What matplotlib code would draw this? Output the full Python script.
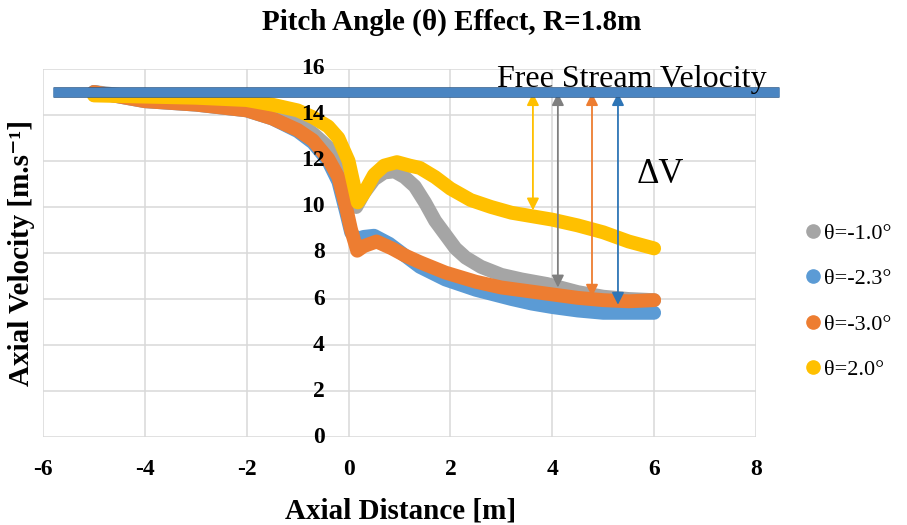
import matplotlib
matplotlib.use('Agg')
import matplotlib.pyplot as plt
import matplotlib.patheffects as pe
from matplotlib.lines import Line2D
from matplotlib.transforms import offset_copy

plt.rcParams['font.family'] = ['Liberation Serif', 'DejaVu Serif']

# axial velocity along the rotor axis for each pitch setting
labels = ['θ=-1.0°', 'θ=-2.3°', 'θ=-3.0°', 'θ=2.0°']
colors = ['#a5a5a5', '#5b9bd5', '#ed7d31', '#ffc000']

x_m10 = [-5.0, -4.0, -3.0, -2.0, -1.5, -1.0, -0.7, -0.4, -0.2, 0.0, 0.15, 0.3, 0.5, 0.7, 0.9,
         1.1, 1.3, 1.5, 1.7, 1.9, 2.1, 2.3, 2.6, 3.0, 3.4, 3.9, 4.5, 5.0, 5.5, 6.0]
v_m10 = [15.0, 14.75, 14.6, 14.4, 14.1, 13.7, 13.2, 12.6, 12.0, 11.0, 10.0, 10.6, 11.2, 11.5, 11.55,
         11.3, 10.9, 10.2, 9.4, 8.8, 8.2, 7.8, 7.4, 7.05, 6.85, 6.65, 6.3, 6.1, 6.0, 5.95]

x_m23 = [-5.0, -4.0, -3.0, -2.0, -1.5, -1.0, -0.7, -0.4, -0.2, -0.05, 0.05, 0.15, 0.3, 0.5, 0.8,
         1.1, 1.4, 1.9, 2.5, 3.2, 3.6, 4.0, 4.5, 5.0, 5.5, 6.0]
v_m23 = [15.0, 14.6, 14.45, 14.2, 13.85, 13.3, 12.8, 12.0, 11.1, 9.8, 8.9, 8.6, 8.7, 8.75, 8.4,
         7.9, 7.4, 6.85, 6.4, 6.0, 5.8, 5.65, 5.5, 5.4, 5.4, 5.4]

x_m30 = [-5.0, -4.5, -4.0, -3.0, -2.0, -1.5, -1.0, -0.7, -0.4, -0.2, -0.05, 0.05, 0.17, 0.3, 0.55,
         0.85, 1.1, 1.4, 1.9, 2.5, 3.0, 3.5, 4.0, 4.5, 5.0, 5.5, 6.0]
v_m30 = [15.0, 14.8, 14.6, 14.45, 14.2, 13.85, 13.35, 12.9, 12.1, 11.3, 10.0, 9.0, 8.1, 8.3, 8.5,
         8.2, 7.9, 7.6, 7.15, 6.75, 6.5, 6.35, 6.2, 6.05, 5.95, 5.9, 5.95]

x_p20 = [-5.0, -4.0, -3.0, -2.0, -1.5, -1.0, -0.7, -0.4, -0.2, 0.0, 0.1, 0.18, 0.3, 0.5, 0.7,
         0.95, 1.2, 1.4, 1.7, 2.0, 2.4, 2.8, 3.2, 3.6, 4.0, 4.5, 5.0, 5.5, 6.0]
v_p20 = [14.85, 14.8, 14.75, 14.65, 14.45, 14.2, 13.9, 13.5, 13.0, 12.0, 11.0, 10.2, 10.6, 11.4, 11.8,
         11.95, 11.8, 11.7, 11.3, 10.8, 10.3, 10.0, 9.75, 9.6, 9.45, 9.2, 8.9, 8.5, 8.2]

series_x = [x_m10, x_m23, x_m30, x_p20]
series_v = [v_m10, v_m23, v_m30, v_p20]

# free stream reference and velocity deficit arrows
free_stream = 15.0
free_stream_x = [-5.8, 8.45]
arrow_x = [3.62, 4.11, 4.78, 5.29]
arrow_low = [9.85, 6.5, 6.1, 5.75]
arrow_colors = ['#ffc000', '#7f7f7f', '#ed7d31', '#2e75b6']

x_ticks = list(range(-6, 9, 2))
y_ticks = list(range(0, 17, 2))

fig = plt.figure(figsize=(9.07, 5.25), dpi=100)
ax = fig.add_axes([0.0474, 0.1676, 0.7861, 0.701])
ax.set_xlim(-6, 8)
ax.set_ylim(0, 16)
ax.set_xticks(x_ticks, labels=[str(t) for t in x_ticks], fontweight='bold', fontsize=17)
ax.set_yticks(y_ticks, labels=[])
ax.grid(True, color='#d9d9d9', lw=1.1)
for s in ax.spines.values():
    s.set_visible(False)
ax.tick_params(length=0)
ax.tick_params(axis='x', pad=16)

for xs, vs, c, lab in zip(series_x, series_v, colors, labels):
    ax.plot(xs, vs, color=c, lw=10, solid_capstyle='round', solid_joinstyle='round', label=lab)

# y tick labels sit on the x=0 line, drawn above the curves
ylab_tr = offset_copy(ax.transData, fig=fig, x=-24, y=0, units='dots')
for t in y_ticks:
    ax.text(0, t, str(t), transform=ylab_tr, ha='right', va='center',
            fontsize=17, fontweight='bold', zorder=10)

ax.plot(free_stream_x, [free_stream, free_stream], color='#4a85c2', lw=6.6, clip_on=False,
        solid_capstyle='butt', zorder=6,
        path_effects=[pe.Stroke(linewidth=7.6, foreground='#2e5a88'), pe.Normal()])

for xa, lo, c in zip(arrow_x, arrow_low, arrow_colors):
    ax.annotate('', xy=(xa, lo), xytext=(xa, free_stream - 0.05),
                arrowprops=dict(arrowstyle='<|-|>', color=c, lw=1.3, mutation_scale=18,
                                shrinkA=0, shrinkB=0), zorder=5)

ax.text(2.91, 15.22, 'Free Stream Velocity', fontsize=23, va='baseline', zorder=7)
ax.text(5.66, 11.4, 'ΔV', fontsize=25, va='center')

handles = [Line2D([], [], marker='o', ls='', ms=9.5, color=c) for c in colors]
fig.legend(handles, labels, loc='upper left', bbox_to_anchor=(0.8864, 0.575), frameon=False,
           fontsize=16, handletextpad=0.1, labelspacing=1.12, handlelength=0.8,
           borderpad=0, borderaxespad=0)

fig.text(0.4985, 1 - 22 / 525, 'Pitch Angle (θ) Effect, R=1.8m', ha='center', va='center',
         fontsize=21, fontweight='bold')
fig.text(0.442, 1 - 511 / 525, 'Axial Distance [m]', ha='center', va='center',
         fontsize=21, fontweight='bold')
fig.text(22 / 907, 1 - 253 / 525, 'Axial Velocity [m.s⁻¹]', ha='center', va='center',
         rotation=90, fontsize=21, fontweight='bold')

fig.savefig('out.png', dpi=100)
